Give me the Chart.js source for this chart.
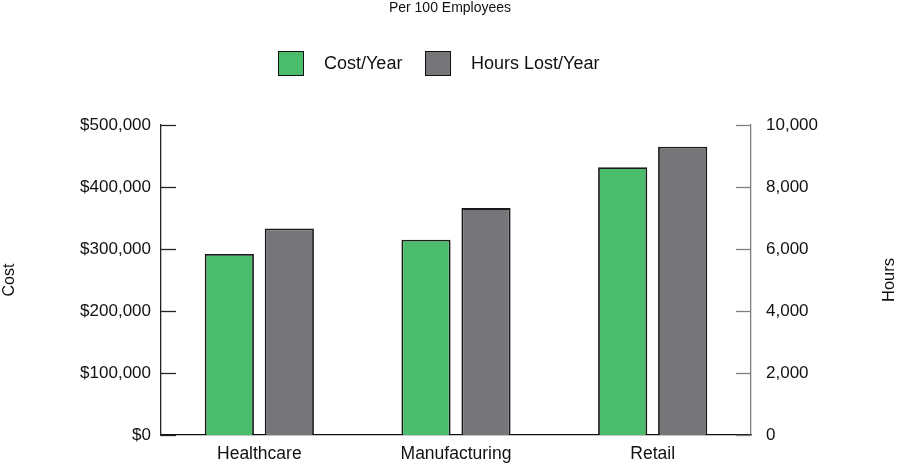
<!DOCTYPE html>
<html>
<head>
<meta charset="utf-8">
<title>Per 100 Employees</title>
<script src="https://cdn.jsdelivr.net/npm/chart.js@4.4.1/dist/chart.umd.min.js"></script>
<style>
    html, body { margin: 0; padding: 0; background: #fff; }
    #wrap { position: relative; width: 900px; height: 467px; }
    .legend-item {
        position: absolute;
        top: 51px;
        height: 25px;
        display: flex;
        align-items: center;
        font-family: 'Liberation Sans', Arial, sans-serif;
        font-size: 18px;
        color: #111;
        white-space: nowrap;
    }
    .legend-box { width: 24px; height: 23px; border: 1px solid #111; margin-right: 20px; }
</style>
</head>
<body>
<div id="wrap">
    <canvas id="chart" width="900" height="467"></canvas>
    <div id="legend"></div>
</div>
<script>
const categories = ['Healthcare', 'Manufacturing', 'Retail'];
const costPerYear = [292000, 315000, 432000];
const hoursLostPerYear = [6660, 7320, 9300];
const seriesNames = ['Cost/Year', 'Hours Lost/Year'];
const costAxis = { min: 0, max: 500000, step: 100000 };
const hoursAxis = { min: 0, max: 10000, step: 2000 };

const green = '#4bbb6c';
const grey = '#75767a';
const fontFamily = "'Liberation Sans', Arial, sans-serif";

Chart.defaults.font.family = fontFamily;
Chart.defaults.color = '#111';

// ticks drawn inward from each y axis, like the original
const innerTicks = {
    id: 'innerTicks',
    afterDraw(chart) {
        const ctx = chart.ctx;
        const list = [
            { scale: chart.scales.y, dir: 1, color: '#222' },
            { scale: chart.scales.y1, dir: -1, color: '#808080' }
        ];
        ctx.save();
        ctx.lineWidth = 1.3;
        list.forEach(function (a) {
            const x0 = a.dir > 0 ? a.scale.right : a.scale.left;
            ctx.strokeStyle = a.color;
            a.scale.ticks.forEach(function (t) {
                const y = Math.round(a.scale.getPixelForValue(t.value)) + 0.5;
                ctx.beginPath();
                ctx.moveTo(x0, y);
                ctx.lineTo(x0 + a.dir * 15, y);
                ctx.stroke();
            });
        });
        ctx.restore();
    }
};

// right axis title reads bottom to top
const rightTitle = {
    id: 'rightTitle',
    afterDraw(chart) {
        const ctx = chart.ctx;
        const s = chart.scales.y1;
        ctx.save();
        ctx.translate(889, (s.top + s.bottom) / 2);
        ctx.rotate(-Math.PI / 2);
        ctx.font = '16.5px ' + fontFamily;
        ctx.fillStyle = '#111';
        ctx.textAlign = 'center';
        ctx.textBaseline = 'middle';
        ctx.fillText('Hours', 0, 0);
        ctx.restore();
    }
};

const chart = new Chart(document.getElementById('chart').getContext('2d'), {
    type: 'bar',
    data: {
        labels: categories,
        datasets: [{
            label: seriesNames[0],
            data: costPerYear,
            yAxisID: 'y',
            backgroundColor: green,
            borderColor: '#1a1a1a',
            borderWidth: 1.8,
            categoryPercentage: 0.61,
            barPercentage: 0.82
        }, {
            label: seriesNames[1],
            data: hoursLostPerYear,
            yAxisID: 'y1',
            backgroundColor: grey,
            borderColor: '#1a1a1a',
            borderWidth: 1.8,
            categoryPercentage: 0.61,
            barPercentage: 0.82
        }]
    },
    options: {
        responsive: false,
        animation: false,
        layout: { padding: 0 },
        plugins: {
            legend: { display: false },
            tooltip: { enabled: false },
            title: {
                display: true,
                text: 'Per 100 Employees',
                font: { size: 14, weight: 'normal' },
                color: '#111',
                padding: { top: 0, bottom: 108.2 }
            }
        },
        scales: {
            x: {
                grid: { display: false, drawTicks: false },
                border: { display: true, color: '#111', width: 1.3 },
                ticks: { font: { size: 17.5 }, padding: 9 },
                afterFit(scale) { scale.height = 32; }
            },
            y: {
                position: 'left',
                min: costAxis.min,
                max: costAxis.max,
                grid: { display: false, drawTicks: false },
                border: { display: true, color: '#222', width: 1.3 },
                ticks: {
                    stepSize: costAxis.step,
                    padding: 10,
                    font: { size: 17 },
                    callback: v => '$' + v.toLocaleString('en-US')
                },
                title: {
                    display: true,
                    text: 'Cost',
                    font: { size: 16 },
                    padding: { top: 0, bottom: 0 }
                },
                afterFit(scale) { scale.width = 161; }
            },
            y1: {
                position: 'right',
                min: hoursAxis.min,
                max: hoursAxis.max,
                grid: { display: false, drawTicks: false },
                border: { display: true, color: '#808080', width: 1.3 },
                ticks: {
                    stepSize: hoursAxis.step,
                    padding: 15,
                    font: { size: 17 },
                    callback: v => v.toLocaleString('en-US')
                },
                afterFit(scale) { scale.width = 149; }
            }
        }
    },
    plugins: [innerTicks, rightTitle]
});

// html legend built from the datasets
const legendLeft = [278, 425];
const legend = document.getElementById('legend');
chart.data.datasets.forEach(function (ds, i) {
    const item = document.createElement('div');
    item.className = 'legend-item';
    item.style.left = legendLeft[i] + 'px';
    const box = document.createElement('span');
    box.className = 'legend-box';
    box.style.background = ds.backgroundColor;
    const txt = document.createElement('span');
    txt.textContent = ds.label;
    item.appendChild(box);
    item.appendChild(txt);
    legend.appendChild(item);
});
</script>
</body>
</html>
